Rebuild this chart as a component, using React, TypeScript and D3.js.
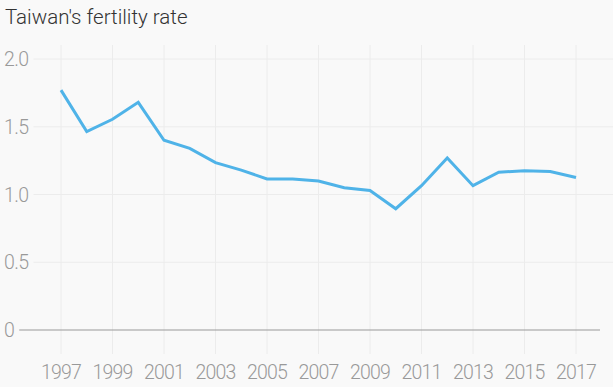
import React, { useEffect, useRef } from 'react';
import * as d3 from 'd3';

const years = [1997, 1998, 1999, 2000, 2001, 2002, 2003, 2004, 2005, 2006, 2007, 2008, 2009, 2010, 2011, 2012, 2013, 2014, 2015, 2016, 2017];
const fertility = [1.77, 1.465, 1.555, 1.68, 1.4, 1.34, 1.235, 1.18, 1.115, 1.115, 1.1, 1.05, 1.03, 0.895, 1.065, 1.27, 1.065, 1.165, 1.175, 1.17, 1.125];
const yTicks = [0, 0.5, 1, 1.5, 2];
const xTicks = [1997, 1999, 2001, 2003, 2005, 2007, 2009, 2011, 2013, 2015, 2017];

const width = 613;
const height = 387;

const App = () => {
  const svgRef = useRef<SVGSVGElement>(null);

  useEffect(() => {
    const svg = d3.select(svgRef.current);
    svg.selectAll('*').remove();

    const font = 'Roboto, sans-serif';

    svg.append('rect')
      .attr('width', width)
      .attr('height', height)
      .attr('fill', '#f9f9f9');

    // Title
    svg.append('text')
      .attr('x', 5)
      .attr('y', 24)
      .style('font-family', font)
      .style('font-weight', 300)
      .style('font-size', '20.5px')
      .attr('fill', '#333')
      .text("Taiwan's fertility rate");

    const x = d3.scaleLinear().domain([1997, 2017]).range([61, 576]);
    const y = d3.scaleLinear().domain([0, 2]).range([330, 59]);

    // vertical grid
    svg.append('g')
      .selectAll('line')
      .data(xTicks)
      .enter()
      .append('line')
      .attr('x1', d => x(d))
      .attr('x2', d => x(d))
      .attr('y1', 45)
      .attr('y2', 354)
      .attr('stroke', '#ececec')
      .attr('stroke-width', 1);

    // y labels + horizontal grid
    const yg = svg.append('g');
    yTicks.forEach(t => {
      const label = yg.append('text')
        .attr('x', 4)
        .attr('y', y(t) + 7)
        .style('font-family', font)
        .style('font-weight', 300)
        .style('font-size', '19.5px')
        .style('letter-spacing', '-0.6px')
        .attr('fill', '#999')
        .text(t === 0 ? '0' : d3.format('.1f')(t));
      const w = (label.node() as SVGTextElement).getComputedTextLength();
      yg.append('line')
        .attr('x1', 4 + w + 5)
        .attr('x2', t === 0 ? 600 : 613)
        .attr('y1', y(t))
        .attr('y2', y(t))
        .attr('stroke', t === 0 ? '#999' : '#ececec')
        .attr('stroke-width', t === 0 ? 1.2 : 1);
    });

    // x labels
    svg.append('g')
      .selectAll('text')
      .data(xTicks)
      .enter()
      .append('text')
      .attr('x', d => x(d))
      .attr('y', 379)
      .attr('text-anchor', 'middle')
      .style('font-family', font)
      .style('font-weight', 300)
      .style('font-size', '19.5px')
      .style('letter-spacing', '-0.8px')
      .attr('fill', '#999')
      .text(d => String(d));

    const line = d3.line<number>()
      .x((_, i) => x(years[i]))
      .y(d => y(d));

    svg.append('path')
      .datum(fertility)
      .attr('d', line)
      .attr('fill', 'none')
      .attr('stroke', '#4fb3e8')
      .attr('stroke-width', 3);
  }, []);

  return <svg ref={svgRef} width={width} height={height} style={{ position: 'absolute', left: 0, top: 0 }} />;
};

export default App;
